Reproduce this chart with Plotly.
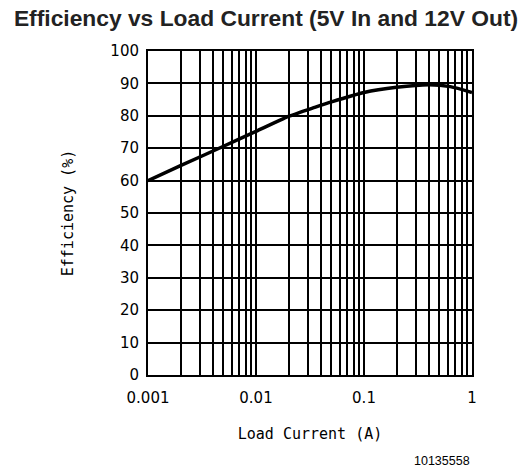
import plotly.graph_objects as go

current = [0.001, 0.002, 0.005, 0.01, 0.02, 0.035, 0.05, 0.1, 0.2, 0.4, 0.63, 1.0]
efficiency = [60, 64.6, 70.6, 75.2, 79.8, 82.6, 84.3, 87.2, 88.8, 89.6, 89.0, 87.2]

x_grid_vals = [m * 10 ** e for e in (-3, -2, -1) for m in range(1, 10)] + [1]
decade_labels = {0.001: "0.001", 0.01: "0.01", 0.1: "0.1", 1: "1"}
x_grid_text = [decade_labels.get(v, "") for v in x_grid_vals]
y_ticks = list(range(0, 101, 10))

fig = go.Figure()
fig.add_trace(go.Scatter(x=current, y=efficiency, mode="lines",
                         line=dict(color="black", width=3.5, shape="spline", smoothing=0.6),
                         showlegend=False))

tick_font = dict(family="DejaVu Sans", size=15, color="black")
axis_title_font = dict(family="DejaVu Sans Mono", size=15, color="black")
fig.update_layout(
    width=532, height=470,
    margin=dict(l=148, r=60, t=51, b=95),
    paper_bgcolor="white", plot_bgcolor="white",
    title=dict(text="<b>Efficiency vs Load Current (5V In and 12V Out)</b>",
               font=dict(family="Liberation Sans", size=22.8, color="#222"),
               x=0.5, xanchor="center", y=0.962, yanchor="middle"),
    xaxis=dict(type="log", range=[-3, 0], tickvals=x_grid_vals, ticktext=x_grid_text,
               showgrid=True, gridcolor="black", gridwidth=1.5,
               showline=True, linecolor="black", linewidth=2, mirror=True,
               ticks="", tickfont=tick_font, zeroline=False, automargin=False,
               ticklabelstandoff=8,
               title=dict(text="Load Current (A)", font=axis_title_font, standoff=22)),
    yaxis=dict(range=[0, 100], tickvals=y_ticks,
               showgrid=True, gridcolor="black", gridwidth=1.5,
               showline=True, linecolor="black", linewidth=2, mirror=True,
               ticks="", tickfont=tick_font, zeroline=False, automargin=False,
               ticklabelstandoff=4,
               title=dict(text="Efficiency (%)", font=axis_title_font, standoff=33)),
)
fig.add_annotation(text="10135558", xref="paper", yref="paper", x=1.0, y=-0.265,
                   xanchor="right", yanchor="middle", showarrow=False,
                   font=dict(family="Liberation Sans", size=12.5, color="black"))
fig.write_html("out.html", config={"displayModeBar": False},
               post_script="document.body.style.margin='0';")
